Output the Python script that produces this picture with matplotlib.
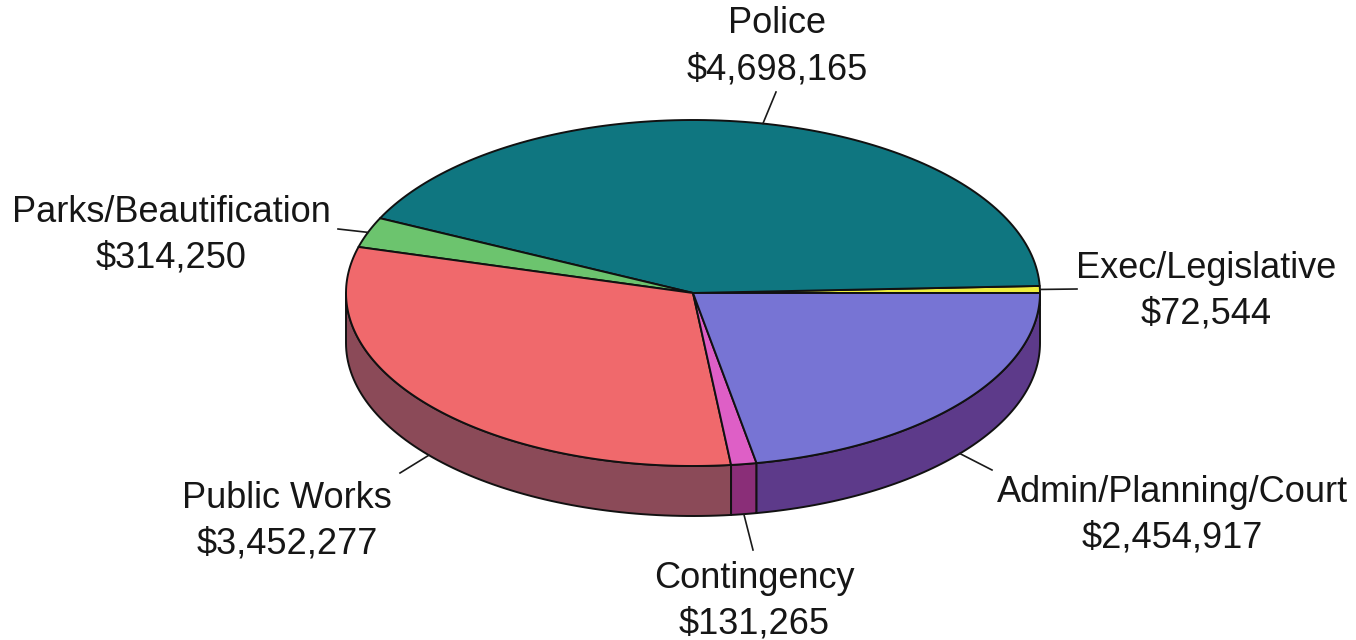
import numpy as np
import matplotlib
matplotlib.use("Agg")
import matplotlib.pyplot as plt
from matplotlib.patches import Polygon

# budget by department, listed counter-clockwise starting at 3 o'clock
depts = ["Exec/Legislative", "Police", "Parks/Beautification",
         "Public Works", "Contingency", "Admin/Planning/Court"]
amounts = [72544, 4698165, 314250, 3452277, 131265, 2454917]

top_colors = ["#eeee3c", "#0f7680", "#6cc46e", "#f0696c", "#de5fc6", "#7774d4"]
side_colors = ["#8a8a20", "#0a4a50", "#3e7a40", "#8b4a58", "#8a2e78", "#5d3a8a"]

# label anchor (centre x, baseline of first line) and leader line outer end
label_pos = [(1206, 278), (777, 33), (171, 222), (287, 508), (754, 588), (1172, 502)]
leader_end = [(1077, 289), (776, 92), (338, 229), (400, 473), (753, 550), (992, 470)]

# pie geometry in pixel units
cx, cy = 693, 293
rx, ry = 347, 173
depth = 50

plt.rcParams["font.family"] = ["Liberation Sans", "DejaVu Sans"]

fig = plt.figure(figsize=(13.56, 6.4), dpi=100)
ax = fig.add_axes([0, 0, 1, 1])
ax.set_xlim(0, 1356)
ax.set_ylim(640, 0)
ax.axis("off")


def rim(t, dy=0):
    t = np.radians(t)
    return np.column_stack([cx + rx * np.cos(t), cy - ry * np.sin(t) + dy])


total = sum(amounts)
edges = np.concatenate([[0], np.cumsum(amounts) / total * 360])

# front walls first (only the lower half of the ellipse is visible)
for i in range(len(depts)):
    s0, s1 = max(edges[i], 180), min(edges[i + 1], 360)
    if s0 >= s1:
        continue
    t = np.linspace(s0, s1, 80)
    pts = np.vstack([rim(t), rim(t[::-1], depth)])
    ax.add_patch(Polygon(pts, closed=True, facecolor=side_colors[i],
                         edgecolor="#111111", lw=1.4, joinstyle="round"))

# top faces
for i in range(len(depts)):
    t = np.linspace(edges[i], edges[i + 1], 120)
    pts = np.vstack([[cx, cy], rim(t)])
    ax.add_patch(Polygon(pts, closed=True, facecolor=top_colors[i],
                         edgecolor="#111111", lw=1.4, joinstyle="round"))

# labels with leader lines
for i, name in enumerate(depts):
    mid = (edges[i] + edges[i + 1]) / 2
    dy = depth if 180 < mid < 360 else 0
    x0, y0 = rim([mid], dy)[0]
    x1, y1 = leader_end[i]
    ax.plot([x0, x1], [y0, y1], color="#1a1a1a", lw=1.2)
    lx, ly = label_pos[i]
    ax.text(lx, ly, name, ha="center", va="baseline", fontsize=26, color="#161616")
    ax.text(lx, ly + 46, "${:,}".format(amounts[i]), ha="center", va="baseline",
            fontsize=26, color="#161616")

fig.savefig("out.png", dpi=100, facecolor="white")
